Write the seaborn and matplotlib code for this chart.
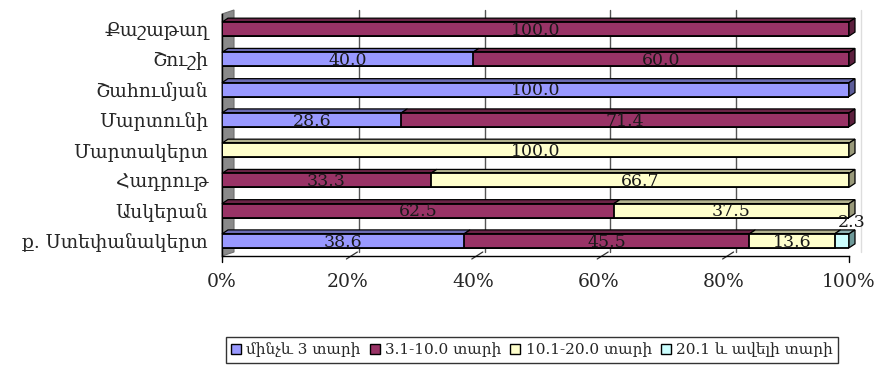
import numpy as np
import pandas as pd
import matplotlib
matplotlib.use("Agg")
import matplotlib.pyplot as plt
import matplotlib.transforms as mtransforms
from matplotlib.patches import Polygon, Patch
from matplotlib.lines import Line2D
import seaborn as sns

# Regions (top to bottom) and share of each experience group, %
regions = ["Քաշաթաղ", "Շուշի", "Շահումյան", "Մարտունի",
           "Մարտակերտ", "Հադրութ", "Ասկերան", "ք. Ստեփանակերտ"]
series_names = ["մինչև 3 տարի", "3.1-10.0 տարի", "10.1-20.0 տարի", "20.1 և ավելի տարի"]
upto_3 = [0.0, 40.0, 100.0, 28.6, 0.0, 0.0, 0.0, 38.6]
from_3_to_10 = [100.0, 60.0, 0.0, 71.4, 0.0, 33.3, 62.5, 45.5]
from_10_to_20 = [0.0, 0.0, 0.0, 0.0, 100.0, 66.7, 37.5, 13.6]
over_20 = [0.0, 0.0, 0.0, 0.0, 0.0, 0.0, 0.0, 2.3]
x_ticks = [0, 20, 40, 60, 80, 100]
x_tick_labels = ["0%", "20%", "40%", "60%", "80%", "100%"]

face_colors = ["#9999FF", "#993366", "#FFFFCC", "#CCFFFF"]
top_colors = ["#6B6BB3", "#6B2447", "#B3B38F", "#8FB3B3"]
side_colors = ["#5C5C99", "#5C1F3D", "#99997A", "#6E9999"]

sns.set_style("white")
plt.rcParams["font.family"] = ["DejaVu Serif"]

values = np.array([upto_3, from_3_to_10, from_10_to_20, over_20])
cum = values.cumsum(axis=0)
df = pd.DataFrame({"region": regions})
for k in range(4):
    df[f"cum{k}"] = cum[k]

W, H, DPI = 882, 367, 100
fig = plt.figure(figsize=(W / DPI, H / DPI), dpi=DPI)
ax = fig.add_axes([222 / W, 1 - 256 / H, 627 / W, 242 / H])

bar_h = 0.46
# stacked bars: widest cumulative total first, earlier groups drawn over it
for k in range(3, -1, -1):
    sns.barplot(data=df, x=f"cum{k}", y="region", orient="h", color=face_colors[k],
                saturation=1, width=bar_h, edgecolor="black", linewidth=1.3,
                ax=ax, zorder=3)

ax.set_xlim(0, 100)
ax.set_ylim(len(regions) - 0.5, -0.5)
ax.set_xlabel("")
ax.set_ylabel("")

# depth of the bars in data units
dx_bar = 6 * 100 / 627
dy_bar = 4 * len(regions) / 242

for i in range(len(regions)):
    y_top = i - bar_h / 2
    left = 0.0
    last_k = max(k for k in range(4) if values[k, i] > 0)
    for k in range(4):
        v = values[k, i]
        if v <= 0:
            continue
        right = left + v
        top = Polygon([(left, y_top), (right, y_top), (right + dx_bar, y_top - dy_bar),
                       (left + dx_bar, y_top - dy_bar)], closed=True,
                      facecolor=top_colors[k], edgecolor="black", linewidth=0.9,
                      zorder=2.5, clip_on=False)
        ax.add_patch(top)
        if k == last_k:
            side = Polygon([(right, y_top), (right + dx_bar, y_top - dy_bar),
                            (right + dx_bar, y_top + bar_h - dy_bar), (right, y_top + bar_h)],
                           closed=True, facecolor=side_colors[k], edgecolor="black",
                           linewidth=0.9, zorder=2.5, clip_on=False)
            ax.add_patch(side)
        # value labels
        if v >= 5:
            ax.text(left + v / 2, i + 0.04, f"{v:.1f}", ha="center", va="center",
                    fontsize=12.5, color="#1a1a1a", zorder=5)
        else:
            ax.text(left + v / 2 + 1.5, y_top - 0.08, f"{v:.1f}", ha="center", va="bottom",
                    fontsize=12.5, color="#1a1a1a", zorder=5)
        left = right

# back wall grid lines, shifted into depth
back = mtransforms.offset_copy(ax.transData, fig=fig, x=12, y=4, units="dots")
for xv in x_ticks[1:-1]:
    ax.add_line(Line2D([xv, xv], [len(regions) - 0.5, -0.5], transform=back,
                       color="#555555", linewidth=1.0, zorder=1, clip_on=False))
ax.add_line(Line2D([100, 100], [len(regions) - 0.5, -0.5], transform=back,
                   color="#dddddd", linewidth=1.0, zorder=1, clip_on=False))

# grey side wall on the left
wall = Polygon([(0, 0), (0, 1), (12 / 627, 1 + 4 / 242), (12 / 627, 4 / 242)], closed=True,
               transform=ax.transAxes, facecolor="#8a8a8a", edgecolor="#6f6f6f",
               linewidth=0.8, zorder=0.5, clip_on=False)
ax.add_patch(wall)

# axes frame
for s in ["top", "right"]:
    ax.spines[s].set_visible(False)
ax.spines["left"].set_color("black")
ax.spines["left"].set_linewidth(1.0)
ax.spines["bottom"].set_color("black")
ax.spines["bottom"].set_linewidth(1.0)

ax.set_xticks(x_ticks)
ax.set_xticklabels(x_tick_labels, fontsize=13.5)
ax.tick_params(axis="x", length=0, pad=12)
ax.tick_params(axis="y", which="major", length=0, pad=10, labelsize=13.5)
ax.set_yticks(np.arange(-0.5, len(regions)), minor=True)
ax.tick_params(axis="y", which="minor", length=5, width=1.0, color="black", direction="out")

# floor tick marks: straight at the ends, slanted in between
for xv in x_ticks:
    if xv in (0, 100):
        tr = ax.get_xaxis_transform()
        ax.add_line(Line2D([xv, xv], [0, -6 / 242], transform=tr, color="black",
                           linewidth=1.0, clip_on=False))
    else:
        p0 = mtransforms.offset_copy(ax.get_xaxis_transform(), fig=fig, x=-1, y=-3,
                                     units="dots").transform((xv, 0))
        p1 = mtransforms.offset_copy(ax.get_xaxis_transform(), fig=fig, x=10, y=4,
                                     units="dots").transform((xv, 0))
        ax.add_line(Line2D([p0[0], p1[0]], [p0[1], p1[1]], transform=None,
                           color="#333333", linewidth=0.9, clip_on=False))

handles = [Patch(facecolor=c, edgecolor="black", linewidth=1.0) for c in face_colors]
leg = fig.legend(handles, series_names, loc="center", bbox_to_anchor=(532 / W, 1 - 350 / H),
                 ncol=4, frameon=True, fancybox=False, fontsize=11,
                 handlelength=0.65, handleheight=0.65, handletextpad=0.35,
                 columnspacing=0.6, borderpad=0.35, borderaxespad=0)
leg.get_frame().set_edgecolor("black")
leg.get_frame().set_linewidth(1.0)

fig.savefig("out.png", dpi=DPI)
